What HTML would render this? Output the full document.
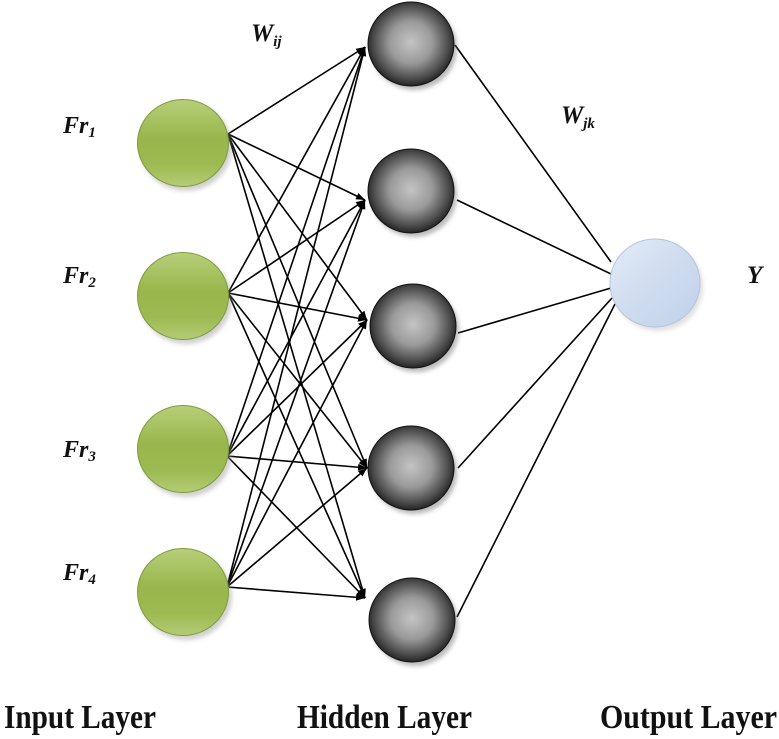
<!DOCTYPE html>
<html>
<head>
<meta charset="utf-8">
<style>
  html, body { margin:0; padding:0; background:#fff; }
  svg { display:block; }
  text { font-family: "Liberation Serif", "DejaVu Serif", serif; fill:#111; }
</style>
</head>
<body>
<svg width="779" height="739" viewBox="0 0 779 739" xmlns="http://www.w3.org/2000/svg">
  <defs>
    <linearGradient id="green" x1="0" y1="0" x2="0" y2="1">
      <stop offset="0" stop-color="#b7cf7a"/>
      <stop offset="0.45" stop-color="#98b64b"/>
      <stop offset="0.75" stop-color="#9dba52"/>
      <stop offset="1" stop-color="#b4cb76"/>
    </linearGradient>
    <radialGradient id="gray" cx="0.5" cy="0.48" r="0.55">
      <stop offset="0" stop-color="#c4c4c4"/>
      <stop offset="0.45" stop-color="#9a9a9a"/>
      <stop offset="0.8" stop-color="#4a4a4a"/>
      <stop offset="1" stop-color="#161616"/>
    </radialGradient>
    <linearGradient id="blue" x1="0" y1="0" x2="1" y2="1">
      <stop offset="0" stop-color="#e3ecf8"/>
      <stop offset="0.5" stop-color="#cfdcef"/>
      <stop offset="1" stop-color="#c0d1ea"/>
    </linearGradient>
    <filter id="sh" x="-20%" y="-20%" width="150%" height="150%">
      <feGaussianBlur stdDeviation="2"/>
    </filter>
    <marker id="arr" markerWidth="10" markerHeight="8" refX="9" refY="4" orient="auto" markerUnits="userSpaceOnUse">
      <path d="M0,0.5 L9,4 L0,7.5 Z" fill="#000"/>
    </marker>
  </defs>

  <!-- input -> hidden connections -->
  <g stroke="#000" stroke-width="1.6" fill="none" marker-end="url(#arr)">
    <line x1="228" y1="134" x2="365" y2="47"/>
    <line x1="228" y1="134" x2="365" y2="200"/>
    <line x1="228" y1="134" x2="367" y2="320"/>
    <line x1="228" y1="134" x2="367" y2="468"/>
    <line x1="228" y1="134" x2="365" y2="598"/>
    <line x1="228" y1="293" x2="365" y2="47"/>
    <line x1="228" y1="293" x2="365" y2="200"/>
    <line x1="228" y1="293" x2="367" y2="320"/>
    <line x1="228" y1="293" x2="367" y2="468"/>
    <line x1="228" y1="293" x2="365" y2="598"/>
    <line x1="227" y1="456" x2="365" y2="47"/>
    <line x1="227" y1="456" x2="365" y2="200"/>
    <line x1="227" y1="456" x2="367" y2="320"/>
    <line x1="227" y1="456" x2="367" y2="468"/>
    <line x1="227" y1="456" x2="365" y2="598"/>
    <line x1="227" y1="587" x2="365" y2="47"/>
    <line x1="227" y1="587" x2="365" y2="200"/>
    <line x1="227" y1="587" x2="367" y2="320"/>
    <line x1="227" y1="587" x2="367" y2="468"/>
    <line x1="227" y1="587" x2="365" y2="598"/>
  </g>

  <!-- hidden -> output connections -->
  <g stroke="#000" stroke-width="1.6" fill="none">
    <line x1="455" y1="45" x2="611" y2="262"/>
    <line x1="457" y1="200" x2="611" y2="274"/>
    <line x1="458" y1="333" x2="611" y2="288"/>
    <line x1="458" y1="468" x2="612" y2="298"/>
    <line x1="457" y1="617" x2="615" y2="304"/>
  </g>

  <!-- input nodes -->
  <g>
    <ellipse cx="186" cy="147" rx="46" ry="44" fill="#999" opacity="0.45" filter="url(#sh)"/>
    <ellipse cx="183" cy="143" rx="45.5" ry="43.5" fill="url(#green)" stroke="#7f9a3c" stroke-width="1"/>
    <ellipse cx="186" cy="300" rx="46" ry="44" fill="#999" opacity="0.45" filter="url(#sh)"/>
    <ellipse cx="183" cy="296" rx="45.5" ry="43.5" fill="url(#green)" stroke="#7f9a3c" stroke-width="1"/>
    <ellipse cx="186" cy="453" rx="46" ry="44" fill="#999" opacity="0.45" filter="url(#sh)"/>
    <ellipse cx="183" cy="449" rx="45.5" ry="43.5" fill="url(#green)" stroke="#7f9a3c" stroke-width="1"/>
    <ellipse cx="186" cy="596" rx="46" ry="44" fill="#999" opacity="0.45" filter="url(#sh)"/>
    <ellipse cx="183" cy="592" rx="45.5" ry="43.5" fill="url(#green)" stroke="#7f9a3c" stroke-width="1"/>
  </g>

  <!-- hidden nodes -->
  <g>
    <ellipse cx="414" cy="48" rx="43" ry="42" fill="#777" opacity="0.5" filter="url(#sh)"/>
    <ellipse cx="411" cy="44" rx="43" ry="42" fill="url(#gray)" stroke="#111" stroke-width="1"/>
    <ellipse cx="414" cy="195" rx="43" ry="42" fill="#777" opacity="0.5" filter="url(#sh)"/>
    <ellipse cx="411" cy="191" rx="43" ry="42" fill="url(#gray)" stroke="#111" stroke-width="1"/>
    <ellipse cx="416" cy="330" rx="43" ry="42" fill="#777" opacity="0.5" filter="url(#sh)"/>
    <ellipse cx="413" cy="326" rx="43" ry="42" fill="url(#gray)" stroke="#111" stroke-width="1"/>
    <ellipse cx="414" cy="472" rx="43" ry="42" fill="#777" opacity="0.5" filter="url(#sh)"/>
    <ellipse cx="411" cy="468" rx="43" ry="42" fill="url(#gray)" stroke="#111" stroke-width="1"/>
    <ellipse cx="415" cy="624" rx="43" ry="42" fill="#777" opacity="0.5" filter="url(#sh)"/>
    <ellipse cx="412" cy="620" rx="43" ry="42" fill="url(#gray)" stroke="#111" stroke-width="1"/>
  </g>

  <!-- output node -->
  <ellipse cx="658" cy="287" rx="45" ry="44" fill="#aaa" opacity="0.35" filter="url(#sh)"/>
  <ellipse cx="655" cy="283" rx="45" ry="44" fill="url(#blue)" stroke="#b3c4dc" stroke-width="1"/>

  <!-- labels -->
  <g font-weight="bold" font-style="italic">
    <text x="63" y="133" font-size="24">Fr<tspan font-size="15" dy="4">1</tspan></text>
    <text x="63" y="283" font-size="24">Fr<tspan font-size="15" dy="4">2</tspan></text>
    <text x="63" y="457" font-size="24">Fr<tspan font-size="15" dy="4">3</tspan></text>
    <text x="63" y="580" font-size="24">Fr<tspan font-size="15" dy="4">4</tspan></text>
    <text x="251" y="41" font-size="25">W<tspan font-size="15" dy="5">ij</tspan></text>
    <text x="561" y="123" font-size="25">W<tspan font-size="15" dy="5">jk</tspan></text>
    <text x="747" y="283" font-size="25">Y</text>
  </g>

  <g font-weight="bold" font-size="34">
    <text x="4" y="728" textLength="152" lengthAdjust="spacingAndGlyphs">Input Layer</text>
    <text x="297" y="728" textLength="175" lengthAdjust="spacingAndGlyphs">Hidden Layer</text>
    <text x="600" y="728" textLength="177" lengthAdjust="spacingAndGlyphs">Output Layer</text>
  </g>
</svg>
</body>
</html>
